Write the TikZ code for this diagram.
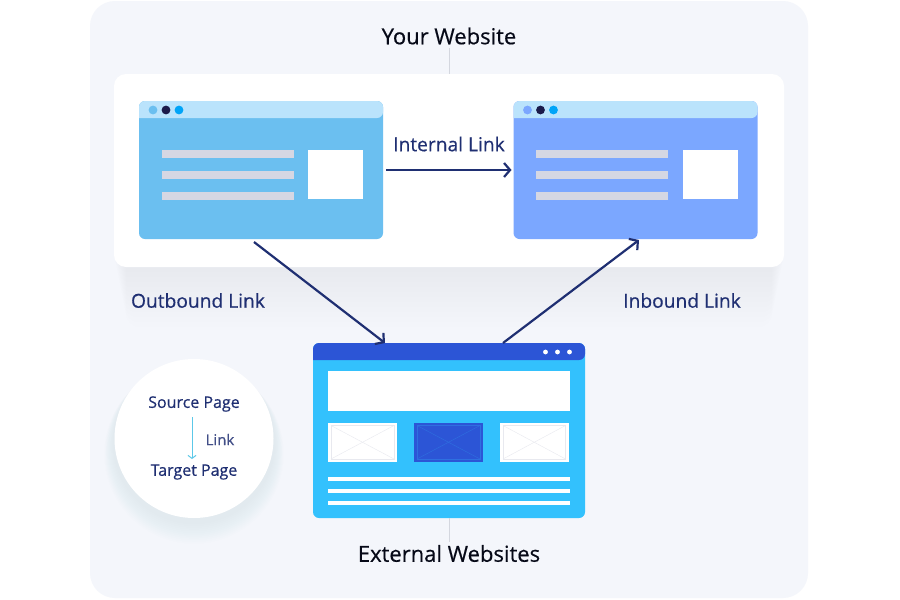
\documentclass[tikz,border=0pt]{standalone}
\usepackage{fontspec}
\setmainfont{Open Sans}[RawFeature={embolden=0.5}]
\usetikzlibrary{arrows.meta}
\definecolor{pagebg}{HTML}{F4F6FB}
\definecolor{inkblue}{HTML}{1F2F72}
\definecolor{shadowblue}{HTML}{A9BCE6}
\definecolor{srcbody}{HTML}{6BBFF0}
\definecolor{tgtbody}{HTML}{7BA7FF}
\definecolor{winbar}{HTML}{BAE3FC}
\definecolor{dotdark}{HTML}{1B1B4B}
\definecolor{dotblue}{HTML}{00A4F8}
\definecolor{textline}{HTML}{D5D7E3}
\definecolor{extbody}{HTML}{33C1FD}
\definecolor{extbar}{HTML}{2C55D6}
\definecolor{crossline}{HTML}{E8E9EF}
\definecolor{legendarrow}{HTML}{5CC8E8}
\definecolor{stemgray}{HTML}{D4D7DF}
\tikzset{
    >={Straight Barb[length=6pt,width=14pt]},
    winbody/.style={rectangle,rounded corners=6pt,inner sep=0pt,outer sep=0pt},
    linkarrow/.style={->,draw=inkblue,line width=2.2pt},
    heading/.style={text=black!80!inkblue,font=\fontsize{22}{24}\selectfont},
    linklabel/.style={text=inkblue,font=\fontsize{19.2}{22}\selectfont},
    legendtext/.style={text=inkblue,font=\fontsize{16}{18}\selectfont},
    stem/.style={draw=stemgray,line width=0.8pt}
}
\begin{document}
\begin{tikzpicture}[x=1pt,y=-1pt]
    \useasboundingbox (0,0) rectangle (900,600);
    \fill[white] (0,0) rectangle (900,600);

    % page background
    \fill[pagebg,rounded corners=25pt] (90,1) rectangle (808,598);

    % shadows of the panel and of the circle
    \foreach \s in {1,...,12} {
        \fill[shadowblue,opacity=0.012,rounded corners=14pt]
            (114+\s,74+2*\s) rectangle (784-\s,267+5*\s);
        \fill[shadowblue,opacity=0.016] (194,442+\s) circle ({80+0.8*\s});
    }

    % white panel
    \node[winbody,fill=white,rounded corners=12pt,minimum width=670pt,minimum height=193pt] (panel) at (449,170.5) {};

    % the two pages of the website
    \foreach \name/\dx/\bodycol in {srcwin/0/srcbody,tgtwin/374.5/tgtbody} {
        \node[winbody,fill=\bodycol,minimum width=244pt,minimum height=138pt] (\name) at (261+\dx,170) {};
        \fill[winbar] (139+\dx,118) [rounded corners=6pt] -- (139+\dx,101) -- (383+\dx,101) -- (383+\dx,118) [sharp corners] -- cycle;
        \fill[\bodycol] (153+\dx,110) circle (4.4);
        \fill[dotdark] (166+\dx,110) circle (4.4);
        \fill[dotblue] (179+\dx,110) circle (4.4);
        \foreach \y in {153.5,174.5,195.5}
            \fill[textline] (161.5+\dx,\y-4) rectangle (293.5+\dx,\y+4);
        \fill[white] (308+\dx,150) rectangle (363+\dx,199);
    }

    % external website
    \node[winbody,fill=extbody,minimum width=272pt,minimum height=175pt] (extwin) at (449,430.5) {};
    \fill[extbar] (313,360) [rounded corners=6pt] -- (313,343) -- (585,343) -- (585,360) [sharp corners] -- cycle;
    \foreach \x in {545.5,557.5,569.5}
        \fill[white] (\x,352) circle (2.4);
    \fill[white] (328,371) rectangle (570,411);
    \foreach \x/\w/\boxcol/\crosscol in {328/69/white/crossline,414/69/extbar/extbody!25!extbar,500/68.5/white/crossline} {
        \fill[\boxcol] (\x,422.5) rectangle (\x+\w,462);
        \draw[\crosscol,line width=0.4pt] (\x+3,425.5) rectangle (\x+\w-3,459);
        \draw[\crosscol,line width=0.4pt] (\x+3,425.5) -- (\x+\w-3,459);
        \draw[\crosscol,line width=0.4pt] (\x+\w-3,425.5) -- (\x+3,459);
    }
    \foreach \y in {479,491,503}
        \fill[white] (328,\y-2.3) rectangle (570,\y+2.3);

    % headings
    \node[heading] (website) at (449,36) {Your Website};
    \node[heading] (external) at (449,553.5) {External Websites};
    \draw[stem] (website.south) -- (panel.north);
    \draw[stem] (extwin.south) -- (external.north);

    % links
    \coordinate (outstart) at (254,242);
    \coordinate (outend) at (385,343);
    \coordinate (instart) at (503,343);
    \coordinate (inend) at (639,240);
    \draw[linkarrow,shorten <=3pt,shorten >=2pt] (srcwin.east) -- (tgtwin.west);
    \draw[linkarrow] (outstart) -- (outend);
    \draw[linkarrow] (instart) -- (inend);
    \node[linklabel] (internal) at (449,144) {Internal Link};
    \node[linklabel] (outbound) at (198,300.5) {Outbound Link};
    \node[linklabel] (inbound) at (682,300.5) {Inbound Link};

    % legend circle
    \node[circle,fill=white,minimum size=159pt,inner sep=0pt] (legend) at (194,438.5) {};
    \node[legendtext] (source) at (194,404) {Source Page};
    \node[legendtext] (target) at (194,472) {Target Page};
    \node[text=inkblue!85,font=\fontsize{15}{18}\selectfont] (linkword) at (220,439.5) {Link};
    \draw[->,>={Straight Barb[length=3pt,width=8pt]},draw=legendarrow,line width=1pt] (192,417) -- (192,459);
\end{tikzpicture}
\end{document}
